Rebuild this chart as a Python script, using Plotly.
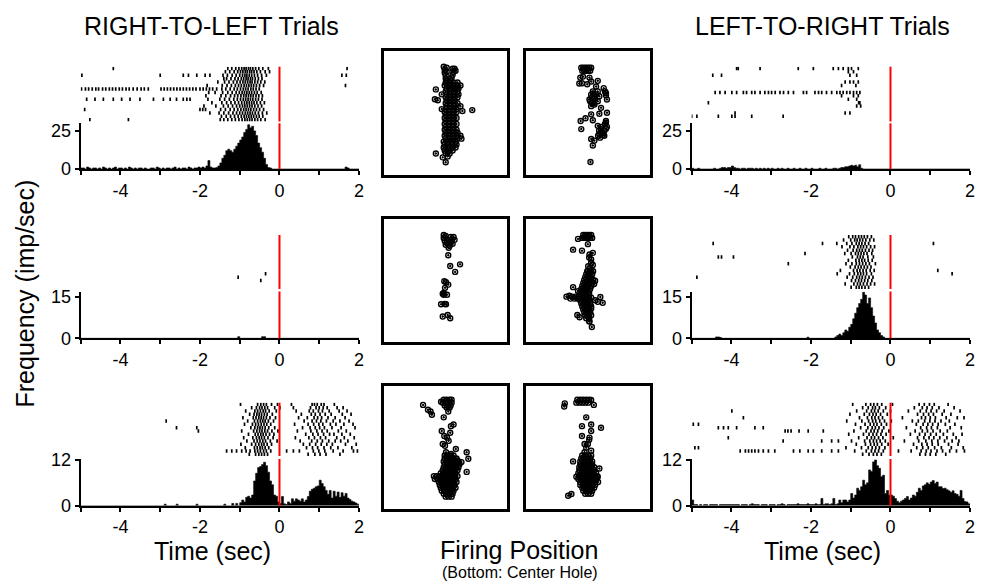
import numpy as np
import plotly.graph_objects as go

# ======================= DATA =======================
time_tick_vals = [-5, -4, -3, -2, -1, 0, 1, 2]
time_tick_text = ["", "-4", "", "-2", "", "0", "", "2"]
bin_start = -5.0
bin_width = 0.05

# peri-event histograms (imp/sec), 0.05 s bins from -5 to 2 s
hist_rl_1 = [0.7,0.7,0,1.3,0.7,0,0.7,0.7,0,0.7,0,1.3,0.7,0,0.7,0,0.7,1.3,0,0.7,
             0.7,0,0.7,0,1.3,0.7,0,0.7,0,0.7,0.7,0,0.7,0,0,0.7,0.7,0,1.3,0.7,
             0,0.7,0,0.7,0.7,0,0.7,1.3,0,0.7,0,0.7,0.7,0,1.3,0.7,0,0.7,0.7,1.3,
             0.7,1.3,0.7,2,5.5,1.3,0.7,0.7,1,2,4,7,9,12,13,12,11,13,15,17,
             19,21,24,26,29,27,28,25,22,17,14,11,7,3,1,0.7,0,0,0,0,
             0,0,0,0,0,0,0,0,0,0,0,0,0,0,0,0,0,0,0,0,
             0,0,0,0,0,0,0,0,0,0,0,0,0,1.3,0.7,0,0,0,0,0]
hist_rl_2 = [0]*20 + [0]*20 + [0]*20 + \
            [0,0,0,0,0,0,0,0,0,0,0,0,0,0,0,0,0,0,0,0.6] + \
            [0,0,0,0,0,0,0,0,0,0,0,0.6,0.6,0,0,0,0,0,0,0] + [0]*20 + [0]*20
hist_rl_3 = [0]*20 + [0]*20 + \
            [0,0,0.4,0,0,0,0,0,0.4,0,0,0,0,0,0,0,0,0,0.4,0,
             0,0,0,0,0,0,0,0,0,0,0,0,0.4,0,0,0,0.6,0,0.6,0,
             0.8,1.5,1.0,2.2,2.5,2.0,2.8,6.5,8.5,10.0,10.3,10.8,11.4,10.5,8.8,6.5,5.5,2.8,2.5,1.0,
             0.6,2.4,0.5,0.3,1.0,0.6,1.8,1.2,1.8,1.5,1.2,1.8,1.0,1.5,2.4,3.8,4.3,4.6,5.0,5.2,
             6.7,5.8,5.0,4.0,3.0,4.0,2.0,3.8,2.5,3.6,2.2,3.4,2.5,3.2,2.0,1.6,1.2,1.0,0.7,0.4]
hist_lr_1 = [0.5,0,0,0.5,0,0,0,0,0,0,0,0.5,0,0,0.5,1.0,1.0,0.5,1.0,1.0,
             2.0,1.0,0.5,0.5,0,0.5,0.5,0,0.5,0.5,0.5,0,0.5,0,0.5,0,0.5,0,0.5,0,
             0.5,0,0,0.5,0,0.5,0,0,0.5,0,0,0.5,0,0,0.5,0,0,0.5,0,0,
             0.5,0,0,0,0.5,0,0,0.5,0,0,0,0.5,0.5,0,0.5,1.0,1.0,1.5,1.5,2.0,
             2.5,2.0,2.5,1.5,2.8,0.5,0,0,0,0,0,0,0,0,0,0,0,0,0,0] + [0]*20 + [0]*20
hist_lr_2 = [0,0,0,0,0,0,0,0,0,0,0,0,0.5,0.5,0.3,0,0,0,0,0] + [0]*20 + \
            [0,0,0,0,0,0,0,0,0,0,0,0,0,0,0,0,0,0,0.4,0,
             0,0,0,0,0,0,0,0,0,0,0,0,0.5,1.0,1.5,1.0,2.0,3.0,2.5,4.0,
             5.0,7.0,9.0,11.0,12.5,14.0,16.5,15.5,12.5,14.5,11.0,8.0,5.5,3.0,2.0,1.0,0.5,0,0,0] + [0]*20 + [0]*20
hist_lr_3 = [1.5,0.3,0.3,0,0.3,0,0.3,0.3,0,0.3,0.3,0.3,0.3,0,0.3,0.3,0.3,0.3,0.3,0.3,
             0.3,0.3,0.3,0.3,0,0.3,0.3,0.3,0,0.3,0.5,0.3,0.3,0.3,0,0.3,0.3,0.3,0,0.3,
             0.3,0.3,0,0.3,0.3,0.5,0.3,0,0.3,0.3,0.3,0.3,0.3,0.5,0.3,0.3,0.3,0.3,0.5,0.3,
             0.3,0.3,0.5,0.3,0.3,1.9,0.3,0.5,0.5,0.3,0.5,1.9,0.3,0.5,1.5,0.8,1.5,1.5,1.0,1.5,
             3.2,2.0,2.8,4.6,4.0,5.0,6.7,5.5,6.0,9.4,9.0,11.5,12.0,10.5,9.8,7.6,8.0,3.2,4.0,2.8,
             2.8,2.5,1.9,1.2,0.8,1.2,1.5,1.9,2.4,1.5,2.0,2.8,2.5,3.5,4.6,4.0,5.2,5.5,6.0,5.6,
             6.2,6.6,5.8,6.2,5.0,5.0,4.5,4.6,4.2,3.9,3.5,3.9,3.2,3.0,2.5,4.0,1.9,1.1,1.0,0.5]

freq_tick_vals = [[0, 25], [0, 15], [0, 12]]
freq_axis_max = [30.0, 16.8, 12.26]

# rasters: spike times (s) per trial (trial 0 at top)
raster_rl_1 = [
    [-4.18,-1.30,-1.20,-1.10,-1.02,-0.95,-0.89,-0.84,-0.78,-0.73,-0.67,-0.60,-0.52,-0.42,-0.28,1.70],
    [-1.36,-1.25,-1.14,-1.05,-0.98,-0.92,-0.86,-0.81,-0.75,-0.70,-0.64,-0.57,-0.48,-0.36,-0.25],
    [-4.97,-3.00,-2.42,-2.29,-2.08,-1.87,-1.75,-1.42,-1.31,-1.19,-1.09,-1.00,-0.93,-0.87,-0.82,-0.76,-0.70,-0.63,-0.55,-0.45,-0.33,1.57,1.68],
    [-1.40,-1.33,-1.22,-1.12,-1.04,-0.96,-0.90,-0.84,-0.79,-0.73,-0.68,-0.61,-0.53,-0.44],
    [-1.55,-1.38,-1.27,-1.16,-1.07,-0.99,-0.92,-0.86,-0.80,-0.74,-0.69,-0.62,-0.55,-0.47,-0.37],
    [-1.82,-1.44,-1.32,-1.21,-1.11,-1.03,-0.96,-0.89,-0.83,-0.77,-0.71,-0.65,-0.58,-0.50,-0.40,1.66],
    [-4.98,-4.88,-4.80,-4.71,-4.62,-4.55,-4.45,-4.37,-4.28,-4.20,-4.12,-4.03,-3.95,-3.86,-3.78,-3.68,-3.58,-3.48,-3.40,-3.30,
     -2.98,-2.90,-2.82,-2.74,-2.66,-2.58,-2.50,-2.42,-2.34,-2.26,-2.18,-2.10,-2.00,-1.92,-1.84,-1.76,-1.68,-1.58,
     -1.45,-1.35,-1.24,-1.14,-1.06,-0.98,-0.91,-0.85,-0.79,-0.72,-0.66,-0.59,-0.51],
    [-1.78,-1.62,-1.43,-1.30,-1.19,-1.09,-1.01,-0.94,-0.88,-0.82,-0.76,-0.70,-0.63,-0.56,-0.46],
    [-1.85,-1.47,-1.35,-1.23,-1.13,-1.05,-0.97,-0.90,-0.84,-0.78,-0.72,-0.66,-0.59,-0.52,-0.43],
    [-4.85,-4.64,-4.43,-4.18,-3.97,-3.76,-3.51,-3.17,-2.92,-2.75,-2.59,-2.42,-2.33,-2.25,-1.80,
     -1.50,-1.38,-1.26,-1.15,-1.06,-0.98,-0.91,-0.85,-0.79,-0.73,-0.67,-0.60,-0.53,-0.44],
    [-1.70,-1.45,-1.33,-1.22,-1.12,-1.03,-0.95,-0.88,-0.82,-0.76,-0.70,-0.64,-0.57,-0.48,-0.38],
    [-1.90,-1.60,-1.41,-1.29,-1.18,-1.08,-1.00,-0.93,-0.87,-0.81,-0.75,-0.69,-0.62,-0.54,-0.45],
    [-4.90,-2.00,-1.93,-1.86,-1.48,-1.36,-1.24,-1.14,-1.05,-0.97,-0.90,-0.84,-0.78,-0.72,-0.65,-0.58,-0.50,-0.40],
    [-1.75,-1.52,-1.40,-1.28,-1.17,-1.08,-1.00,-0.93,-0.86,-0.80,-0.74,-0.68,-0.61,-0.53,-0.43,-0.32],
    [-1.46,-1.34,-1.23,-1.13,-1.04,-0.96,-0.89,-0.83,-0.77,-0.71,-0.65,-0.58,-0.51,-0.42],
    [-4.77,-3.80,-1.49,-1.40,-1.30,-1.20,-1.11,-1.02,-0.94,-0.87,-0.81,-0.75,-0.69,-0.62,-0.55,-0.47,-0.36],
]
raster_rl_2 = [[], [], [], [], [], [], [], [], [], [], [], [-0.35], [-1.04], [-0.47], [], []]
raster_rl_3 = [
    [-0.98,-0.55,-0.47,-0.40,-0.33,-0.20,-0.05,0.30,0.82,0.88,0.95,1.05,1.12,1.38],
    [-0.70,-0.58,-0.50,-0.44,-0.37,-0.30,-0.12,0.01,0.35,0.78,0.92,1.00,1.10,1.20,1.45,1.60],
    [-0.85,-0.62,-0.55,-0.48,-0.41,-0.35,-0.26,-0.08,0.42,0.75,0.85,0.98,1.08,1.25,1.50,1.70],
    [-0.75,-0.64,-0.57,-0.51,-0.45,-0.38,-0.31,-0.18,0.55,0.80,0.90,1.02,1.15,1.30,1.58,1.80],
    [-0.92,-0.66,-0.59,-0.52,-0.46,-0.40,-0.33,-0.24,-0.10,0.48,0.70,0.87,0.96,1.06,1.22,1.40,1.65],
    [-2.85,-0.80,-0.63,-0.55,-0.48,-0.42,-0.36,-0.28,-0.15,0.62,0.82,0.93,1.04,1.18,1.35,1.52,1.75],
    [-0.88,-0.68,-0.60,-0.53,-0.46,-0.39,-0.32,-0.22,0.38,0.72,0.86,0.99,1.09,1.28,1.42,1.62,1.85],
    [-2.59,-2.08,-0.72,-0.62,-0.55,-0.49,-0.43,-0.36,-0.27,-0.12,0.58,0.77,0.90,1.01,1.13,1.32,1.55,1.90],
    [-2.04,-0.95,-0.65,-0.57,-0.50,-0.44,-0.37,-0.30,-0.19,-0.04,0.45,0.79,0.94,1.07,1.20,1.48,1.68],
    [-0.78,-0.61,-0.54,-0.47,-0.41,-0.34,-0.25,-0.14,0.66,0.84,0.97,1.11,1.26,1.37,1.57,1.78],
    [-0.90,-0.67,-0.58,-0.51,-0.45,-0.38,-0.29,-0.16,0.40,0.74,0.88,1.03,1.16,1.44,1.63,1.88],
    [-0.82,-0.64,-0.56,-0.49,-0.42,-0.35,-0.23,-0.06,0.52,0.81,0.95,1.08,1.24,1.40,1.54,1.72],
    [-0.97,-0.70,-0.60,-0.52,-0.45,-0.39,-0.31,-0.20,0.60,0.76,0.91,1.05,1.19,1.33,1.66,1.93],
    [-0.86,-0.63,-0.56,-0.49,-0.43,-0.36,-0.27,0.68,0.83,0.96,1.12,1.29,1.47,1.82],
    [-1.33,-1.20,-1.08,-0.95,-0.84,-0.74,-0.62,-0.55,-0.48,-0.40,-0.33,-0.22,0.18,0.35,0.50,0.85,0.99,1.14,1.35,1.60,1.86,1.96],
    [-0.76,-0.60,-0.52,-0.45,-0.38,-0.30,0.72,0.89,1.02,1.17,1.52],
]
raster_lr_1 = [
    [-3.87,-3.83,-3.28,-2.32,-1.94,-1.44,-1.31,-1.19,-1.06,-0.98,-0.81],
    [-1.06,-0.93],
    [-4.47,-4.25,-1.02,-0.85],
    [],
    [-1.14,-1.02,-0.93,-0.81],
    [-1.23,-0.87],
    [],
    [-4.41,-4.29,-4.16,-3.99,-3.87,-3.70,-3.62,-3.49,-3.41,-3.28,-3.16,-3.07,-2.99,-2.90,-2.78,-2.69,-2.57,-2.44,
     -2.19,-2.11,-1.90,-1.81,-1.73,-1.61,-1.48,-1.35,-1.27,-1.19,-1.10,-1.02,-0.93,-0.85,-0.77],
    [-1.23,-0.93,-0.81],
    [-1.06,-0.85],
    [-4.58,-0.80,-0.77],
    [-0.85,-0.75],
    [],
    [-3.91,-1.14,-1.02],
    [-5.00,-4.87,-4.33,-3.99,-3.91,-3.49,-2.70],
    [],
]
raster_lr_2 = [
    [-1.05,-0.95,-0.88,-0.80,-0.73,-0.66,-0.58,-0.48],
    [-1.18,-1.00,-0.90,-0.84,-0.77,-0.70,-0.62,-0.52,-0.42],
    [-4.46,-1.71,-1.35,-1.10,-0.97,-0.86,-0.79,-0.72,-0.64,-0.55,1.08],
    [-1.22,-1.02,-0.92,-0.82,-0.75,-0.68,-0.60,-0.50,-0.40],
    [-1.08,-0.94,-0.85,-0.78,-0.71,-0.63,-0.54,-0.45],
    [-2.15,-1.15,-0.99,-0.88,-0.81,-0.74,-0.67,-0.59,-0.47],
    [-4.33,-4.25,-3.95,-0.96,-0.83,-0.76,-0.69,-0.57,-0.43],
    [-1.06,-0.87,-0.79,-0.72,-0.65,-0.56,-0.46],
    [-2.57,-1.12,-0.97,-0.86,-0.78,-0.70,-0.62,-0.53,-0.38],
    [-1.01,-0.89,-0.81,-0.74,-0.66,-0.58,-0.49],
    [-1.26,-0.93,-0.84,-0.77,-0.69,-0.61,-0.51,-0.41,1.19],
    [-1.34,-1.03,-0.91,-0.82,-0.75,-0.68,-0.60,-0.48,1.55],
    [-4.87,-1.09,-0.95,-0.85,-0.78,-0.71,-0.63,-0.54,-0.44],
    [-0.98,-0.88,-0.80,-0.73,-0.65,-0.57,-0.47],
    [-1.14,-0.92,-0.83,-0.76,-0.68,-0.59,-0.50,-0.40],
    [-0.99,-0.86,-0.79,-0.72,-0.64,-0.55],
]
raster_lr_3 = [
    [-0.95,-0.62,-0.50,-0.42,-0.33,-0.22,0.05,0.72,0.85,0.98,1.10,1.45],
    [-0.70,-0.56,-0.45,-0.38,-0.28,-0.12,0.60,0.80,0.92,1.05,1.22,1.60],
    [-3.99,-0.85,-0.60,-0.48,-0.40,-0.31,-0.18,0.00,0.45,0.75,0.90,1.02,1.16,1.35,1.75],
    [-1.02,-0.66,-0.53,-0.44,-0.36,-0.25,-0.08,0.68,0.83,0.96,1.08,1.30,1.52],
    [-3.70,-0.78,-0.58,-0.47,-0.39,-0.30,-0.20,0.30,0.78,0.88,1.00,1.13,1.40,1.68,1.85],
    [-1.10,-0.72,-0.55,-0.45,-0.37,-0.27,-0.15,0.02,0.55,0.70,0.86,0.99,1.12,1.27,1.48],
    [-4.96,-4.83,-0.88,-0.64,-0.51,-0.42,-0.34,-0.23,-0.10,0.65,0.82,0.94,1.06,1.20,1.38,1.62],
    [-4.33,-4.20,-4.08,-3.87,-3.41,-3.20,-0.75,-0.57,-0.46,-0.38,-0.29,-0.17,0.40,0.76,0.91,1.03,1.18,1.50,1.78],
    [-2.65,-2.58,-2.50,-2.30,-2.07,-1.69,-0.92,-0.61,-0.49,-0.41,-0.32,-0.21,-0.04,0.62,0.80,0.93,1.07,1.25,1.43],
    [-1.05,-0.68,-0.54,-0.44,-0.35,-0.24,-0.11,0.50,0.73,0.87,1.01,1.15,1.33,1.58,1.80],
    [-4.08,-0.80,-0.59,-0.48,-0.40,-0.30,-0.19,0.07,0.68,0.84,0.97,1.09,1.24,1.42,1.65],
    [-2.70,-1.73,-1.48,-1.31,-0.98,-0.65,-0.52,-0.43,-0.35,-0.26,-0.13,0.35,0.71,0.89,1.04,1.19,1.36,1.55,1.72],
    [-0.86,-0.63,-0.50,-0.41,-0.33,-0.22,-0.06,0.58,0.79,0.92,1.05,1.20,1.46,1.70],
    [-4.92,-4.83,-1.12,-0.73,-0.56,-0.46,-0.37,-0.28,-0.14,0.66,0.81,0.95,1.11,1.28,1.53,1.83],
    [-3.78,-3.65,-3.57,-3.49,-3.41,-3.32,-3.20,-3.07,-2.91,-2.44,-2.28,-2.07,-1.94,-1.73,-1.48,-1.31,
     -0.90,-0.61,-0.48,-0.39,-0.30,-0.18,0.20,0.52,0.77,0.90,1.02,1.17,1.31,1.49,1.66,1.86],
    [-0.70,-0.54,-0.43,-0.34,-0.23,0.74,0.88,1.00,1.14,1.39],
]

# firing positions (box units 0..126, y measured from top); isolated points + dense rows (y, [x...])
pos_r1_a_pts = [(60,15),(61,18),(61,21),(62,24),(62,27),(63,29),(63,16),(63,20),
                (71,17),(70,20),(69,23),(68,26),(67,29),(72,19),(69,17),
                (52,38),(51,48),(54,49),(58,43),(58,58),(89,59),(52,103),(62,112),(59,107),(77,55),(79,60),(72,37)]
pos_r1_a_rows = [(31,[62,66,70,74]),(34,[61,65,69,73,77]),(37,[63,67,71,75]),(40,[62,66,70,74]),
                 (43,[63,67,71,75]),(46,[62,66,70,74]),(49,[63,67,71]),(52,[62,66,70,74]),(55,[63,67,71]),
                 (58,[62,66,70,73]),(61,[61,65,69,73]),(64,[62,66,70]),(67,[61,65,69,73]),(70,[62,66,70]),
                 (73,[61,65,69,73]),(76,[62,66,70]),(79,[61,65,69,73]),(82,[62,66,70,74]),(85,[61,65,69,73,77]),
                 (88,[62,66,70,74,78]),(91,[60,64,68,72]),(94,[61,65,69,73]),(97,[60,64,68,72]),
                 (100,[61,65,69]),(103,[62,66]),(106,[64])]
pos_r1_b_pts = [(56.7,25),(63.3,26),(55.7,31.7),(61,32.7),(65,30),(71.7,29.3),(70,35),(77.7,36.7),(66.7,40),
                (71.7,40),(80,41.7),(65,43.3),(68.3,45),(73.3,45),(63.3,48.3),(67.7,51.7),(71.7,50),(81,48.3),
                (65,55),(75,56.7),(68.3,53.3),(65,63.3),(73.3,62.7),(81,61.7),(54.3,70),(59.3,67.3),(66.7,69.3),
                (80,71.7),(55,78.3),(71.7,75),(75,78.3),(78.3,80),(73.3,83.3),(78.3,85),(65,88.3),(68.3,90),
                (66.7,95),(64.3,111.7),(81,76),(67,42),(69,47),(66,46),(70,43),(64,50),(66,52),(79,40),(80,44),
                (73,80),(76,82),(75,76),(77,84),(80,78),(72,85),(74,87),(80,70),(79,73),(54,26),(53,32)]
pos_r1_b_rows = [(16,[55,57,59,61,63,65]),(19,[56,58,60,62,64])]
pos_r2_a_pts = [(60,15),(62,16),(60,18),(63,19),(61,21),(63,23),(62,25),
                (67,17),(70,17),(68,20),(71,20),(67,23),(69,24),(66,26),(65,28),
                (64.6,35.7),(66.6,46.7),(76.6,45),(71.6,52.7),(62.3,63.3),(64.6,65.7),(61.3,69),(59,75),
                (63.3,76),(57.3,85.7),(62.3,85.7),(59,98.3),(64,96.7),(66.6,100),(60.6,62.3),(60,74.3),(61,85.5),(60,76)]
pos_r2_a_rows = []
pos_r2_b_pts = [(51.7,19),(61.7,24.4),(55.7,31),(46.7,30),(63.3,35),(66.7,33.3),(65,43.3),(66.7,45.7),
                (61.7,51.7),(65,52.3),(69,61.7),(63,38),(65,40),(62,47),(64,49),
                (40,78),(43,77),(46,78),(49,78),(52,78),(44,80),(48,80),(51,80),
                (69,81.7),(74.3,78.3),(76.7,84.3),(71.7,83.3),(65,90),(46.7,68.3),(51.7,72.3),(51,96.7),
                (53.3,99),(65.7,109),(63.3,103.3),(68,65)]
pos_r2_b_rows = [(15,[57,59,61,63,65]),(18,[56,58,60,62,64,66]),
                 (52,[61,64,67]),(55,[60,63,66]),(58,[59,62,65]),(61,[58,61,64,67]),(64,[57,60,63,66]),
                 (67,[56,59,62,65]),(70,[55,58,61,64]),(73,[54,57,60,63]),(76,[54,57,60,63]),
                 (79,[53,56,59,62,65]),(82,[54,57,60,63]),(85,[55,58,61,64]),(88,[56,59,62,65]),
                 (91,[57,60,63]),(94,[58,61,64]),(97,[59,62,65]),(100,[60,63]),(103,[63])]
pos_r3_a_pts = [(57.3,15),(39,18.3),(44,23.3),(46.6,25),(48,28.3),(64.6,25),(60,31),(67.3,40),(70,38.3),
                (66.6,46.7),(60.6,50),(63.3,51.7),(59,58.3),(61.3,60),(62.3,66.7),(72.3,63.3),(67.3,68.3),
                (83.3,66.7),(85,73.3),(83.3,86.7),(78,76.7),(74,75),(65,55),(58,45)]
pos_r3_a_rows = [(13,[60,63,66,68]),(16,[59,62,65,68]),(19,[61,64,67]),(21,[63,66]),
                 (70,[61,64,67,70]),(73,[61,64,67,70,73]),(76,[60,63,66,69,72,75]),(79,[61,64,67,70,73,76]),
                 (82,[60,63,66,69,72,75]),(85,[59,62,65,68,71,74]),(88,[57,60,63,66,69,72]),
                 (91,[50,53,56,59,62,65,68,71,74]),(94,[51,54,57,60,63,66,69,72]),(97,[55,58,61,64,67,70,73]),
                 (100,[56,59,62,65,68,71]),(103,[57,60,63,66,69,72]),(106,[58,61,64,67,70]),
                 (109,[60,63,66,69]),(112,[62,65,68])]
pos_r3_b_pts = [(65,13.3),(67.7,18.3),(38.3,16.7),(37.7,20),(60,31),(55.7,40),(65,38.3),(75,41.7),(65,45),
                (55.7,50),(63.3,51.7),(58.3,58.3),(61.7,58.3),(65,65),(58.3,66.7),(46.7,76),(63,54),(60,62),
                (41.7,111),(45,109.3),(50,91.7),(73.3,83.3),(71.7,91.7)]
pos_r3_b_rows = [(13,[51,54,57,60,63]),(16,[50,53,56,59,62]),
                 (70,[56,59,62,65]),(73,[55,58,61,64]),(76,[54,57,60,63,66]),(79,[54,57,60,63,66]),
                 (82,[53,56,59,62,65,68]),(85,[53,56,59,62,65,68]),(88,[52,55,58,61,64,67,70]),
                 (91,[53,56,59,62,65,68,71]),(94,[52,55,58,61,64,67,70]),(97,[54,57,60,63,66,69,72]),
                 (100,[54,57,60,63,66,69]),(103,[56,59,62,65,68]),(106,[57,60,63,66]),(109,[59,62,65])]

# ======================= LAYOUT / DRAWING =======================
W, H = 982, 584
FONT = "Liberation Sans, Arial, sans-serif"
def px(x): return x / W
def py(y): return 1 - y / H

left_x = [px(80.7), px(359.0)]
right_x = [px(691.7), px(970.0)]
box_a_x = [px(383.7), px(507.3)]
box_b_x = [px(526.0), px(650.0)]
raster_y = [(66.7, 121.5), (235.0, 289.0), (402.7, 456.0)]
hist_y = [(123.3, 169.0), (291.5, 338.3), (459.0, 505.7)]
box_y = [(51.0, 174.7), (219.3, 342.3), (386.0, 509.0)]

layout = {}
traces = []
shapes = []
counter = [0]

def new_axes(xdom, ydom, xcfg, ycfg):
    counter[0] += 1
    n = counter[0]
    sfx = "" if n == 1 else str(n)
    layout["xaxis" + sfx] = dict(domain=xdom, anchor="y" + sfx, **xcfg)
    layout["yaxis" + sfx] = dict(domain=ydom, anchor="x" + sfx, **ycfg)
    return "x" + sfx, "y" + sfx

hidden = dict(visible=False, showgrid=False, zeroline=False)
red = dict(color="#ff0000", width=2)

hists = {"L": [hist_rl_1, hist_rl_2, hist_rl_3], "R": [hist_lr_1, hist_lr_2, hist_lr_3]}
rasters = {"L": [raster_rl_1, raster_rl_2, raster_rl_3], "R": [raster_lr_1, raster_lr_2, raster_lr_3]}

for side, xdom in (("L", left_x), ("R", right_x)):
    for r in range(3):
        # raster
        ry = raster_y[r]
        spikes = rasters[side][r]
        n_tr = len(spikes)
        xr, yr = new_axes(xdom, [py(ry[1]), py(ry[0])],
                          dict(hidden, range=[-5, 2]),
                          dict(hidden, range=[n_tr - 0.5, -0.5]))
        sx = [t for trial in spikes for t in trial]
        sy = [i for i, trial in enumerate(spikes) for _ in trial]
        traces.append(go.Scatter(x=sx, y=sy, xaxis=xr, yaxis=yr, mode="markers",
                                 marker=dict(symbol="line-ns", size=2.5, color="black",
                                             line=dict(width=1.7, color="black")),
                                 hoverinfo="skip"))
        shapes.append(dict(type="line", xref=xr, yref=yr + " domain", x0=0, x1=0, y0=0, y1=1, line=red))
        # histogram drawn as a filled step outline of the bins
        hy = hist_y[r]
        vals = list(hists[side][r])
        edges = bin_start + bin_width * np.arange(len(vals) + 1)
        xh, yh = new_axes(xdom, [py(hy[1]), py(hy[0])],
                          dict(range=[-5, 2], showline=True, linecolor="black", linewidth=2,
                               ticks="outside", ticklen=4, tickwidth=2, tickcolor="black",
                               tickvals=time_tick_vals, ticktext=time_tick_text,
                               tickfont=dict(size=18, color="black", family=FONT),
                               showgrid=False, zeroline=False, automargin=False),
                          dict(range=[0, freq_axis_max[r]], showline=True, linecolor="black", linewidth=2,
                               ticks="outside", ticklen=4, tickwidth=2, tickcolor="black",
                               tickvals=freq_tick_vals[r],
                               tickfont=dict(size=18, color="black", family=FONT),
                               showgrid=False, zeroline=False, automargin=False))
        traces.append(go.Scatter(x=edges, y=vals + [vals[-1]], xaxis=xh, yaxis=yh,
                                 mode="lines", line=dict(shape="hv", width=0.6, color="black"),
                                 fill="tozeroy", fillcolor="black", hoverinfo="skip"))
        shapes.append(dict(type="line", xref=xh, yref=yh + " domain", x0=0, x1=0, y0=0, y1=1, line=red))

positions = [
    (box_a_x, 0, pos_r1_a_pts, pos_r1_a_rows), (box_b_x, 0, pos_r1_b_pts, pos_r1_b_rows),
    (box_a_x, 1, pos_r2_a_pts, pos_r2_a_rows), (box_b_x, 1, pos_r2_b_pts, pos_r2_b_rows),
    (box_a_x, 2, pos_r3_a_pts, pos_r3_a_rows), (box_b_x, 2, pos_r3_b_pts, pos_r3_b_rows),
]
box_axis = dict(showline=True, mirror=True, linecolor="black", linewidth=2.5, ticks="",
                showticklabels=False, showgrid=False, zeroline=False, automargin=False)
for xdom, r, pts, rows in positions:
    by = box_y[r]
    xb, yb = new_axes(xdom, [py(by[1]), py(by[0])],
                      dict(box_axis, range=[-1, 124.6]),
                      dict(box_axis, range=[124.6, -1]))
    xs = [p[0] for p in pts] + [x for yy, row in rows for x in row]
    ys = [p[1] for p in pts] + [yy for yy, row in rows for _ in row]
    traces.append(go.Scatter(x=xs, y=ys, xaxis=xb, yaxis=yb, mode="markers", cliponaxis=False,
                             marker=dict(symbol="circle-open-dot", size=5, color="black",
                                         line=dict(width=1.4, color="black")),
                             hoverinfo="skip"))

annotations = [
    dict(text="RIGHT-TO-LEFT Trials", x=px(211.5), y=py(26), font=dict(size=25)),
    dict(text="LEFT-TO-RIGHT Trials", x=px(822.5), y=py(26), font=dict(size=25)),
    dict(text="Time (sec)", x=px(212.5), y=py(551), font=dict(size=25)),
    dict(text="Time (sec)", x=px(822.5), y=py(551), font=dict(size=25)),
    dict(text="Firing Position", x=px(518.5), y=py(549.5), font=dict(size=25)),
    dict(text="(Bottom: Center Hole)", x=px(520), y=py(572.5), font=dict(size=16)),
    dict(text="Frequency (imp/sec)", x=px(24.5), y=py(294), font=dict(size=25), textangle=-90),
]
for a in annotations:
    a.update(xref="paper", yref="paper", xanchor="center", yanchor="middle", showarrow=False)
    a["font"].update(family=FONT, color="black")

fig = go.Figure(data=traces)
fig.update_layout(**layout)
fig.update_layout(width=W, height=H, autosize=False,
                  margin=dict(l=0, r=0, t=0, b=0, pad=0, autoexpand=False),
                  paper_bgcolor="white", plot_bgcolor="white", showlegend=False,
                  shapes=shapes, annotations=annotations,
                  font=dict(family=FONT, color="black"))
fig.write_html("out.html")
